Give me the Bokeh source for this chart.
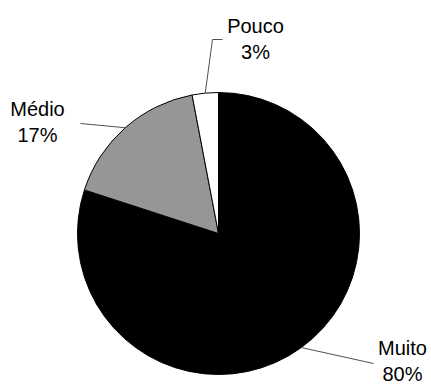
import numpy as np
from bokeh.plotting import figure
from bokeh.models import Range1d, ColumnDataSource
from bokeh.core.properties import value
from bokeh.embed import file_html
from bokeh.resources import INLINE

categories = ["Muito", "Médio", "Pouco"]
values = [80, 17, 3]
labels = ["80%", "17%", "3%"]
colors = ["#000000", "#969696", "#ffffff"]

W, H = 431, 385
cx, cy, r = 218, 385 - 233, 141

vals = np.array(values, dtype=float)
frac = vals / vals.sum()
ends = np.pi / 2 - 2 * np.pi * np.cumsum(frac)
starts = np.concatenate([[np.pi / 2], ends[:-1]])
mids = (starts + ends) / 2

p = figure(width=W, height=H, x_range=Range1d(0, W), y_range=Range1d(0, H),
           output_backend="svg", toolbar_location=None, min_border=0)
p.axis.visible = False
p.grid.visible = False
p.outline_line_color = None
p.background_fill_color = "white"

src = ColumnDataSource(dict(start=ends, end=starts, color=colors, cat=categories))
p.wedge(x=cx, y=cy, radius=r, start_angle="start", end_angle="end",
        fill_color="color", line_color="#000000", line_width=1, source=src)

# leader lines: from slice edge at mid-angle to elbow points (pixel layout)
elbows = [
    [(373, 363)],               # Muito
    [(80, 123)],                # Médio
    [(212, 39), (222, 39)],     # Pouco
]
for m, el in zip(mids, elbows):
    xs = [cx + r * np.cos(m)] + [e[0] for e in el]
    ys = [cy + r * np.sin(m)] + [H - e[1] for e in el]
    p.line(xs, ys, line_color="#505050", line_width=1)

label_pos = [(402, 347), (37, 108), (255, 25)]
for cat, lab, (lx, ly) in zip(categories, labels, label_pos):
    p.text(x=[lx, lx], y=[H - ly, H - ly - 26], text=[cat, lab],
           text_align="center", text_baseline="middle",
           text_font=value("Liberation Sans"), text_font_size="20px",
           text_color="#000000")

open("out.html", "w").write(file_html(p, INLINE))
